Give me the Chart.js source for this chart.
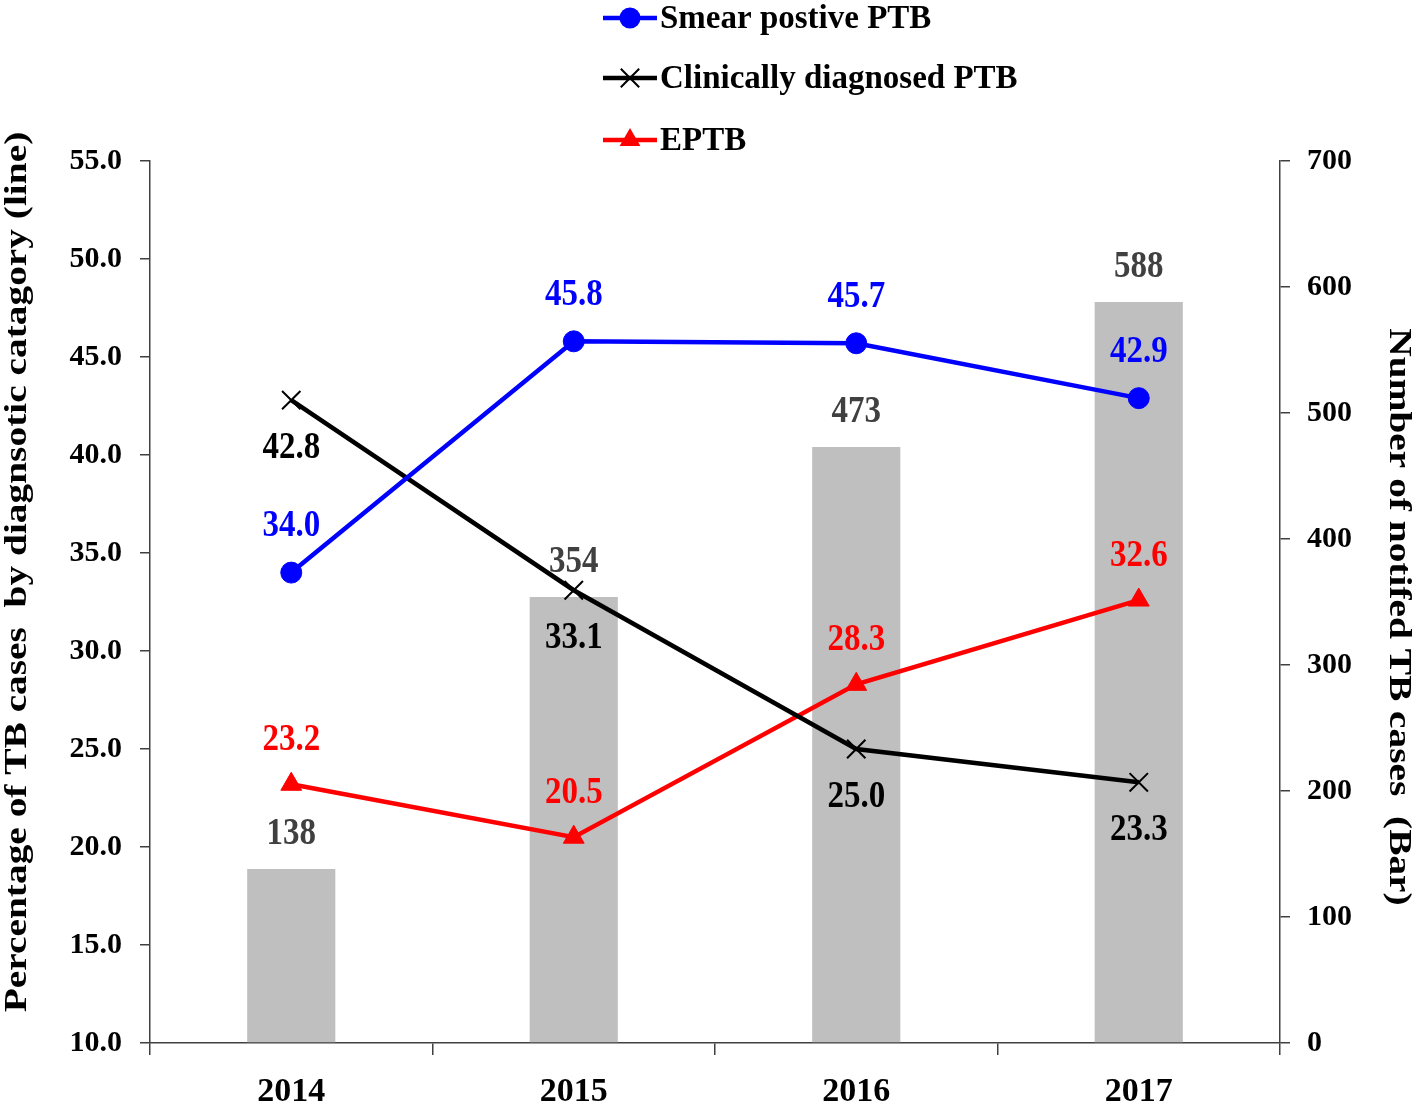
<!DOCTYPE html>
<html>
<head>
<meta charset="utf-8">
<script src="https://cdn.jsdelivr.net/npm/chart.js@4"></script>
<style>
html,body{margin:0;padding:0;background:#fff;}
#wrap{width:1418px;height:1106px;position:relative;}
</style>
</head>
<body>
<div id="wrap"><canvas id="c" width="1418" height="1106"></canvas></div>
<script>
const years = ['2014', '2015', '2016', '2017'];
const smearPositive = [34.0, 45.8, 45.7, 42.9];
const clinicallyDiagnosed = [42.8, 33.1, 25.0, 23.3];
const eptb = [23.2, 20.5, 28.3, 32.6];
const notifiedCases = [138, 354, 473, 588];
const seriesNames = ['Smear postive PTB', 'Clinically diagnosed PTB', 'EPTB'];
const leftTitle = 'Percentage of TB cases  by diagnsotic catagory (line)';
const rightTitle = 'Number of notifed TB cases  (Bar)';

const FONT = "'Liberation Serif', 'Times New Roman', serif";
const AXIS_COLOR = '#404040';

function drawMarker(ctx, style, r, x, y, color, bw) {
  ctx.save();
  ctx.fillStyle = color;
  ctx.strokeStyle = color;
  ctx.lineWidth = bw;
  ctx.beginPath();
  if (style === 'circle') {
    ctx.arc(x, y, r, 0, Math.PI * 2);
    ctx.fill();
  } else if (style === 'triangle') {
    const h = r * 1.5, w = r * 1.732;
    ctx.moveTo(x, y - r);
    ctx.lineTo(x + w / 2, y - r + h);
    ctx.lineTo(x - w / 2, y - r + h);
    ctx.closePath();
    ctx.fill();
  } else {
    const d = r * Math.SQRT1_2;
    ctx.moveTo(x - d, y - d); ctx.lineTo(x + d, y + d);
    ctx.moveTo(x - d, y + d); ctx.lineTo(x + d, y - d);
    ctx.stroke();
  }
  ctx.restore();
}

const labelPlugin = {
  id: 'labels',
  afterDatasetsDraw(chart) {
    const ctx = chart.ctx;
    ctx.save();
    ctx.font = 'bold 33px ' + FONT;
    ctx.textAlign = 'center';
    ctx.textBaseline = 'middle';
    chart.data.datasets.forEach((ds, di) => {
      const meta = chart.getDatasetMeta(di);
      meta.data.forEach((el, i) => {
        const v = ds.data[i];
        const txt = ds.labelDecimals ? v.toFixed(1) : String(v);
        ctx.fillStyle = ds.labelColor;
        ctx.save();
        ctx.translate(el.x, el.y + ds.labelOffset);
        ctx.scale(1, 1.12);
        ctx.fillText(txt, 0, 0);
        ctx.restore();
      });
    });
    ctx.restore();
  },
  afterDraw(chart) {
    const ctx = chart.ctx;
    ctx.save();
    // legend
    const rows = [18, 78, 140];
    let r = 0;
    chart.data.datasets.forEach((ds) => {
      if (ds.type !== 'line') return;
      const y = rows[r++];
      ctx.strokeStyle = ds.borderColor;
      ctx.lineWidth = 4.5;
      ctx.beginPath();
      ctx.moveTo(603, y);
      ctx.lineTo(657, y);
      ctx.stroke();
      drawMarker(ctx, ds.pointStyle, ds.pointRadius, 630, y, ds.pointBackgroundColor, ds.pointBorderWidth);
      ctx.fillStyle = '#000';
      ctx.font = 'bold 33px ' + FONT;
      ctx.textAlign = 'left';
      ctx.textBaseline = 'middle';
      ctx.fillText(ds.label, 660, y + 1);
    });
    // axis titles
    ctx.fillStyle = '#000';
    ctx.font = 'bold 31px ' + FONT;
    ctx.textAlign = 'center';
    ctx.textBaseline = 'middle';
    ctx.save();
    ctx.translate(18, 572);
    ctx.rotate(-Math.PI / 2);
    ctx.scale(1.27, 1);
    ctx.fillText(leftTitle, 0, 0);
    ctx.restore();
    ctx.save();
    ctx.translate(1398, 617);
    ctx.rotate(Math.PI / 2);
    ctx.scale(1.27, 1);
    ctx.fillText(rightTitle, 0, 0);
    ctx.restore();
    ctx.restore();
  }
};

new Chart(document.getElementById('c'), {
  type: 'bar',
  data: {
    labels: years,
    datasets: [
      {
        type: 'line', label: seriesNames[0], data: smearPositive, yAxisID: 'y',
        borderColor: '#0000FF', backgroundColor: '#0000FF', borderWidth: 4.5,
        pointStyle: 'circle', pointRadius: 10.5, pointBorderWidth: 1,
        pointBackgroundColor: '#0000FF', pointBorderColor: '#0000FF',
        order: 1, labelColor: '#0000FF', labelOffset: -46, labelDecimals: true
      },
      {
        type: 'line', label: seriesNames[1], data: clinicallyDiagnosed, yAxisID: 'y',
        borderColor: '#000000', backgroundColor: '#000000', borderWidth: 4.5,
        pointStyle: 'crossRot', pointRadius: 13, pointBorderWidth: 2,
        pointBackgroundColor: '#000000', pointBorderColor: '#000000',
        order: 2, labelColor: '#000000', labelOffset: 48, labelDecimals: true
      },
      {
        type: 'line', label: seriesNames[2], data: eptb, yAxisID: 'y',
        borderColor: '#FF0000', backgroundColor: '#FF0000', borderWidth: 4.5,
        pointStyle: 'triangle', pointRadius: 12, pointBorderWidth: 1,
        pointBackgroundColor: '#FF0000', pointBorderColor: '#FF0000',
        order: 3, labelColor: '#FF0000', labelOffset: -44, labelDecimals: true
      },
      {
        type: 'bar', label: 'Notified TB cases', data: notifiedCases, yAxisID: 'y1',
        backgroundColor: '#BFBFBF', borderWidth: 0,
        categoryPercentage: 1, barPercentage: 0.312,
        order: 10, labelColor: '#404040', labelOffset: -35, labelDecimals: false
      }
    ]
  },
  options: {
    responsive: false,
    animation: false,
    layout: { padding: { top: 161, left: 0, right: 0, bottom: 0 } },
    plugins: { legend: { display: false }, tooltip: { enabled: false } },
    scales: {
      x: {
        offset: true,
        grid: { offset: true, drawOnChartArea: false, tickLength: 12, color: AXIS_COLOR, lineWidth: 1.5 },
        border: { display: true, color: AXIS_COLOR, width: 1.5 },
        ticks: { color: '#000', font: { family: FONT, weight: 'bold', size: 34 }, padding: 17, maxRotation: 0 },
        afterFit(s) { s.height = 63; }
      },
      y: {
        position: 'left', min: 10, max: 55,
        grid: { drawOnChartArea: false, tickLength: 10, color: AXIS_COLOR, lineWidth: 1.5 },
        border: { display: true, color: AXIS_COLOR, width: 1.5 },
        ticks: { stepSize: 5, color: '#000', font: { family: FONT, weight: 'bold', size: 30 }, padding: 18,
                 callback: v => Number(v).toFixed(1) },
        afterFit(s) { s.width = 150; }
      },
      y1: {
        position: 'right', min: 0, max: 700,
        grid: { drawOnChartArea: false, tickLength: 10, color: AXIS_COLOR, lineWidth: 1.5 },
        border: { display: true, color: AXIS_COLOR, width: 1.5 },
        ticks: { stepSize: 100, color: '#000', font: { family: FONT, weight: 'bold', size: 30 }, padding: 17 },
        afterFit(s) { s.width = 138; }
      }
    }
  },
  plugins: [labelPlugin]
});
</script>
</body>
</html>
